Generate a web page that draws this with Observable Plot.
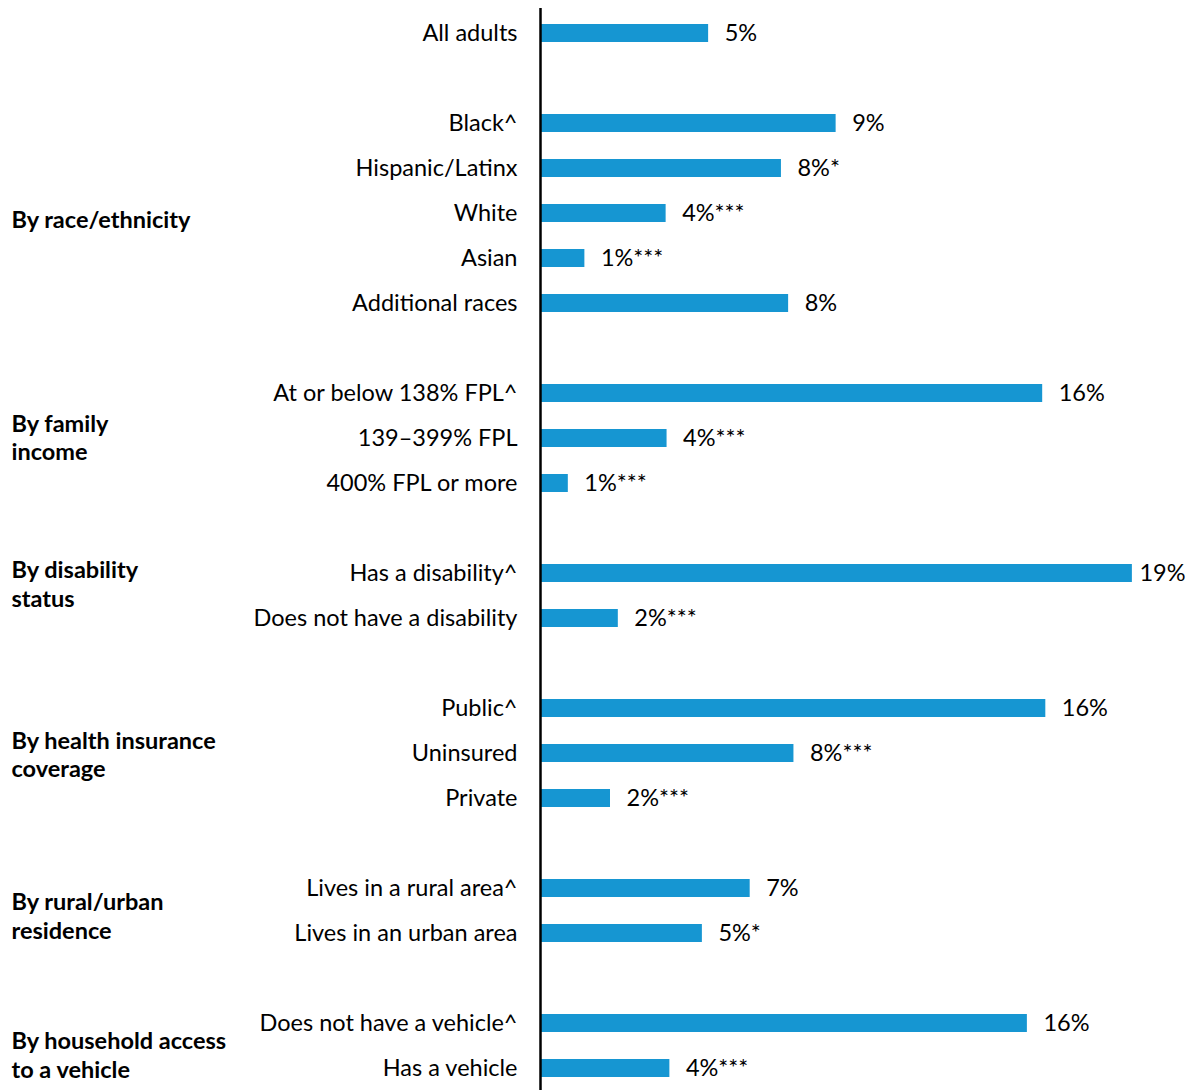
<!DOCTYPE html>
<html>
<head>
<meta charset="utf-8">
<script src="https://cdn.jsdelivr.net/npm/d3@7"></script>
<script src="https://cdn.jsdelivr.net/npm/@observablehq/plot@0.6"></script>
<style>
  html, body { margin: 0; padding: 0; background: #fff; }
  #chart svg { display: block; }
</style>
</head>
<body>
<div id="chart"></div>
<script>
const categories = [
  "All adults",
  "Black^", "Hispanic/Latinx", "White", "Asian", "Additional races",
  "At or below 138% FPL^", "139–399% FPL", "400% FPL or more",
  "Has a disability^", "Does not have a disability",
  "Public^", "Uninsured", "Private",
  "Lives in a rural area^", "Lives in an urban area",
  "Does not have a vehicle^", "Has a vehicle"
];
const groupIds = [0, 1, 1, 1, 1, 1, 2, 2, 2, 3, 3, 4, 4, 4, 5, 5, 6, 6];
const values = [5.38, 9.46, 7.71, 4.02, 1.42, 7.94, 16.07, 4.05, 0.89, 18.94, 2.49, 16.17, 8.11, 2.24, 6.71, 5.18, 15.58, 4.14];
const valueLabels = ["5%", "9%", "8%*", "4%***", "1%***", "8%", "16%", "4%***", "1%***", "19%", "2%***", "16%", "8%***", "2%***", "7%", "5%*", "16%", "4%***"];
const groupLabels = ["", "By race/ethnicity", "By family\nincome", "By disability\nstatus", "By health insurance\ncoverage", "By rural/urban\nresidence", "By household access\nto a vehicle"];

// Build table & domain (with empty slots between groups)
const rows = [];
const domain = [];
categories.forEach((c, i) => {
  if (i > 0 && groupIds[i] !== groupIds[i - 1]) domain.push("__gap" + i);
  domain.push(c);
  rows.push({category: c, value: values[i], label: valueLabels[i], group: groupIds[i]});
});

const yTop = 8.2, yBottom = 1093.8;
const step = (yBottom - yTop) / domain.length;
const groupTweak = [0, 5, -2, -13, 0, 4, 8];
const FS = 23.5;

const groupMarks = groupLabels.map((g, gi) => {
  if (!g) return null;
  const members = rows.filter(r => r.group === gi);
  return Plot.text([{key: members[0].category, text: g}], {
    y: "key",
    text: "text",
    frameAnchor: "left",
    dx: 11,
    dy: (members.length - 1) / 2 * step + groupTweak[gi],
    textAnchor: "start",
    lineAnchor: "middle",
    lineHeight: 29 / 23.5,
    fontWeight: "bold",
    fontSize: 23.5,
    fill: "#000"
  });
}).filter(Boolean);

const chart = Plot.plot({
  width: 1191,
  height: 1090,
  marginLeft: 0,
  marginRight: 0,
  marginTop: 8,
  marginBottom: 0,
  style: {fontFamily: "Lato, 'Noto Sans', sans-serif", fontSize: FS + "px", color: "#000", background: "#fff"},
  x: {domain: [0, 20], range: [540, 540 + 20 * 31.25], axis: null},
  y: {domain, range: [yTop, yBottom], paddingInner: 0.6, paddingOuter: 0.3, axis: null},
  marks: [
    Plot.barX(rows, {y: "category", x: "value", fill: "#1696d2"}),
    Plot.ruleX([0], {stroke: "#000", strokeWidth: 2.5}),
    Plot.text(rows, {y: "category", x: 0, text: "category", dx: -23, textAnchor: "end", fontSize: FS, fill: "#000"}),
    Plot.text(rows.filter(r => r.value < 18), {y: "category", x: "value", text: "label", dx: 16, textAnchor: "start", fontSize: FS, fill: "#000"}),
    Plot.text(rows.filter(r => r.value >= 18), {y: "category", x: "value", text: "label", dx: 7, textAnchor: "start", fontSize: FS, fill: "#000"}),
    ...groupMarks
  ]
});
document.getElementById("chart").appendChild(chart);
</script>
</body>
</html>
